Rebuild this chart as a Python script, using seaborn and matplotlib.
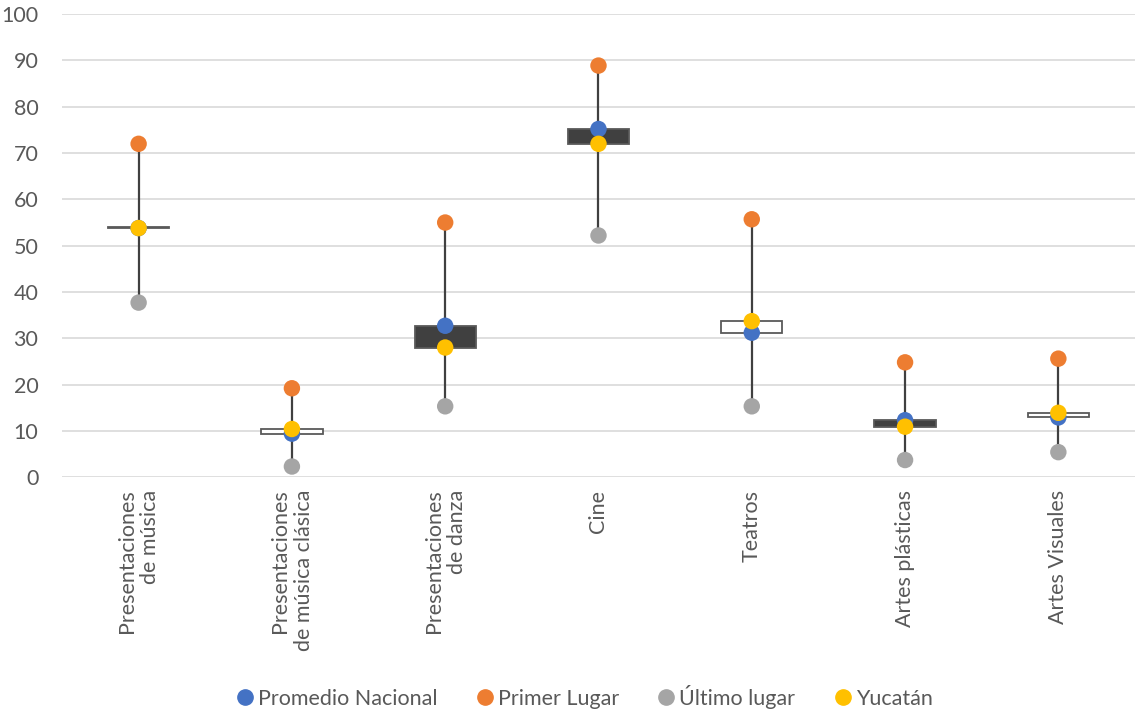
import matplotlib
matplotlib.use('Agg')
import matplotlib.pyplot as plt
from matplotlib.lines import Line2D
import seaborn as sns
import pandas as pd

# data
categories = ['Presentaciones\nde música', 'Presentaciones\nde música clásica', 'Presentaciones\nde danza',
              'Cine', 'Teatros', 'Artes plásticas', 'Artes Visuales']
promedio = [53.8, 9.4, 32.7, 75.2, 31.2, 12.3, 12.9]
primer = [72.0, 19.2, 55.0, 88.9, 55.7, 24.8, 25.6]
ultimo = [37.7, 2.3, 15.3, 52.2, 15.3, 3.7, 5.4]
yucatan = [53.8, 10.4, 28.0, 72.0, 33.7, 10.9, 13.9]

series = ['Promedio Nacional', 'Primer Lugar', 'Último lugar', 'Yucatán']
colors = ['#4472C4', '#ED7D31', '#A5A5A5', '#FFC000']

sns.set_style('white')
plt.rcParams['font.family'] = ['Lato', 'DejaVu Sans']

pos = list(range(len(categories)))
df = pd.DataFrame({
    'x': pos * 4,
    'valor': promedio + primer + ultimo + yucatan,
    'serie': [s for s in series for _ in pos],
})

fig = plt.figure(figsize=(11.35, 7.09), dpi=100)
ax = fig.add_axes([0.0546, 0.327, 0.9454, 0.653])

# high-low lines
ax.vlines(pos, ultimo, primer, color='#404040', lw=1.6, zorder=2)

# up/down bars between promedio and yucatan
for i in pos:
    lo, hi = sorted([promedio[i], yucatan[i]])
    h = max(hi - lo, 0.15)
    face = '#404040' if yucatan[i] < promedio[i] else 'white'
    ax.bar(i, h, bottom=lo, width=0.4, color=face, edgecolor='#595959', lw=1.3, zorder=3)

sns.scatterplot(data=df, x='x', y='valor', hue='serie', hue_order=series, palette=colors,
                s=140, edgecolor='none', legend=False, ax=ax, zorder=4)

ax.set_xlim(-0.5, 6.5)
ax.set_ylim(0, 100)
ax.set_yticks(range(0, 101, 10))
ax.yaxis.grid(True, color='#d9d9d9', lw=1.2)
ax.set_axisbelow(True)
for s in ax.spines.values():
    s.set_visible(False)
ax.set_xticks(pos)
ax.set_xticklabels(categories, rotation=90, ha='center', va='top', multialignment='right')
ax.tick_params(axis='both', length=0, labelsize=15.5, colors='#595959')
ax.tick_params(axis='y', pad=17)
ax.tick_params(axis='x', pad=9)
ax.set_xlabel('')
ax.set_ylabel('')

handles = [Line2D([], [], marker='o', ls='', color=c, markersize=11) for c in colors]
fig.legend(handles, series, loc='center', bbox_to_anchor=(0.515, 0.017), ncol=4, frameon=False,
           fontsize=15.5, handlelength=0.8, handletextpad=0.2, columnspacing=1.8, labelcolor='#595959')

fig.savefig('out.png', dpi=100)
